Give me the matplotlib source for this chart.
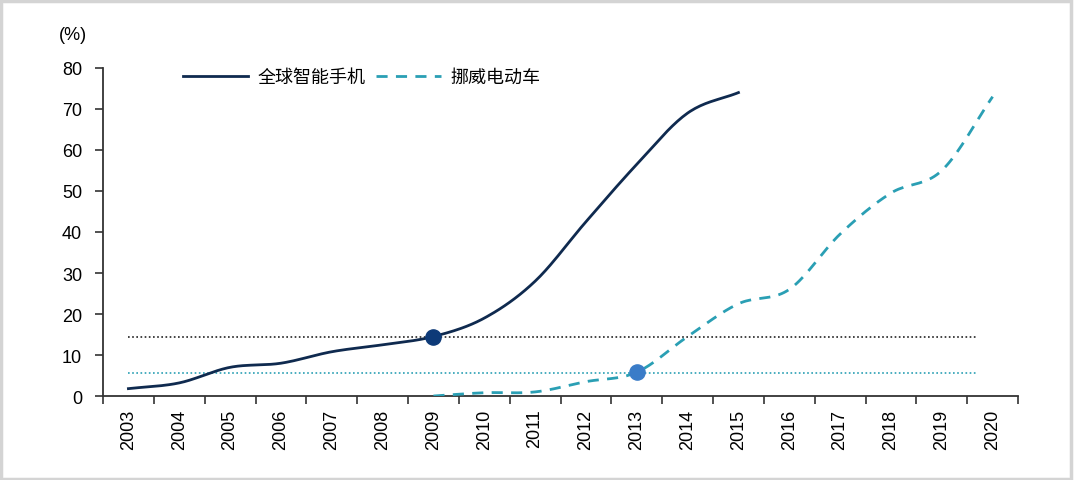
import numpy as np
import matplotlib
matplotlib.use("Agg")
import matplotlib.pyplot as plt
from matplotlib.patches import Rectangle

years = [str(y) for y in range(2003, 2021)]
phone = [1.8, 3.2, 7.0, 8.0, 10.8, 12.5, 14.5, 19.0, 28.0, 42.5, 56.5, 69.0, 74.0]
ev_years = years[6:]
ev = [0.0, 0.8, 1.0, 3.5, 5.8, 14.5, 22.5, 26.0, 39.5, 49.5, 55.0, 73.0]
phone_ref = 14.5   # smartphone level at 2009
ev_ref = 5.6       # EV level at 2013
ref_end = 16.7     # where the reference lines stop (category index)

def smooth(xs, ys, n=20):
    # catmull-rom through the data points, like a smoothed office chart line
    xs = np.asarray(xs, float); ys = np.asarray(ys, float)
    px = np.concatenate([[2*xs[0]-xs[1]], xs, [2*xs[-1]-xs[-2]]])
    py = np.concatenate([[2*ys[0]-ys[1]], ys, [2*ys[-1]-ys[-2]]])
    ox, oy = [], []
    for i in range(1, len(px)-2):
        t = np.linspace(0, 1, n, endpoint=False)
        for arr, out in ((px, ox), (py, oy)):
            p0, p1, p2, p3 = arr[i-1], arr[i], arr[i+1], arr[i+2]
            out.extend(0.5*((2*p1) + (-p0+p2)*t + (2*p0-5*p1+4*p2-p3)*t**2 + (-p0+3*p1-3*p2+p3)*t**3))
    ox.append(xs[-1]); oy.append(ys[-1])
    return np.array(ox), np.array(oy)

navy = "#0f2a4f"
teal = "#2a9fb4"
latin = ["Liberation Sans", "DejaVu Sans"]

fig = plt.figure(figsize=(10.74, 4.81), dpi=100)
ax = fig.add_axes([0.0959, 0.1746, 0.852, 0.682])

xp = np.arange(len(phone))
xe = np.arange(len(ev)) + 6
sx, sy = smooth(xp, phone)
ax.plot(sx, sy, color=navy, lw=2, label="全球智能手机", zorder=3)
sx, sy = smooth(xe, ev)
ax.plot(sx, np.clip(sy, 0, None), color=teal, lw=2, ls=(0, (4, 3)), label="挪威电动车", zorder=3)

ax.plot([0, ref_end], [phone_ref, phone_ref], color="#222222", lw=1.2, ls=(0, (1, 1.5)), zorder=2)
ax.plot([0, ref_end], [ev_ref, ev_ref], color=teal, lw=1.2, ls=(0, (1, 1.5)), zorder=2)
ax.scatter([6], [phone[6]], s=120, color="#0d3a78", zorder=4)
ax.scatter([10], [ev[4]], s=120, color="#3a7cc8", zorder=4)

ax.set_xlim(-0.5, len(years) - 0.5)
ax.set_ylim(0, 80)
ax.set_yticks(range(0, 81, 10))
ax.set_xticks(np.arange(-0.5, len(years)), labels=[])
ax.set_xticks(np.arange(len(years)), labels=years, minor=True, rotation=90)
ax.tick_params(axis="x", which="minor", length=0, pad=9, labelsize=13)
ax.tick_params(axis="x", which="major", length=6, width=1.2, color="#333333")
ax.tick_params(axis="y", length=6, width=1.2, color="#333333", labelsize=13, pad=9)
for s in ("top", "right"):
    ax.spines[s].set_visible(False)
for s in ("left", "bottom"):
    ax.spines[s].set_color("#333333")
    ax.spines[s].set_linewidth(1.3)
for lab in ax.get_xticklabels(minor=True) + ax.get_yticklabels():
    lab.set_family(latin)

ax.text(-0.017, 1.075, "(%)", transform=ax.transAxes, ha="right", va="bottom",
        fontsize=13, family=latin)

ax.legend(loc="upper left", bbox_to_anchor=(0.07, 1.05), ncol=2, frameon=False,
          handlelength=3.6, handletextpad=0.5, columnspacing=0.6,
          prop={"family": ["Noto Sans CJK SC", "DejaVu Sans"], "size": 13})

fig.add_artist(Rectangle((0.001, 0.003), 0.996, 0.993, transform=fig.transFigure,
                         fill=False, edgecolor="#d4d4d4", lw=2.5))

fig.savefig("out.png", dpi=100)
